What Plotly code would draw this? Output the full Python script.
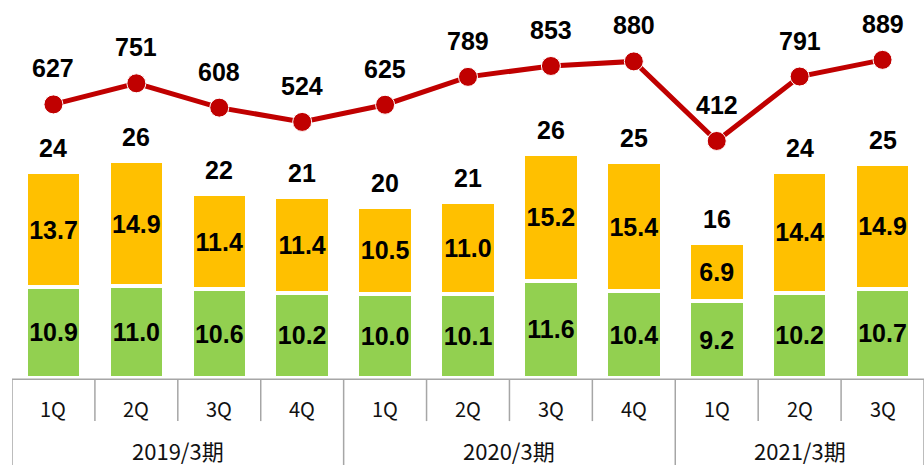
import plotly.graph_objects as go

quarters = ["1Q", "2Q", "3Q", "4Q", "1Q", "2Q", "3Q", "4Q", "1Q", "2Q", "3Q"]
groups = ["2019/3期", "2020/3期", "2021/3期"]
group_sizes = [4, 4, 3]
green_vals = [10.9, 11.0, 10.6, 10.2, 10.0, 10.1, 11.6, 10.4, 9.2, 10.2, 10.7]
orange_vals = [13.7, 14.9, 11.4, 11.4, 10.5, 11.0, 15.2, 15.4, 6.9, 14.4, 14.9]
total_labels = [24, 26, 22, 21, 20, 21, 26, 25, 16, 24, 25]
line_vals = [627, 751, 608, 524, 625, 789, 853, 880, 412, 791, 889]

x = list(range(len(quarters)))
num_font = dict(family="Liberation Sans", size=25, color="#000000")
q_font = dict(family="Noto Sans CJK JP", size=20, color="#111111")
g_font = dict(family="Noto Sans CJK JP", size=22, color="#111111")

fig = go.Figure()
fig.add_trace(go.Bar(
    x=x, y=green_vals, marker=dict(color="#92D050", line=dict(color="white", width=4)),
    width=0.67, text=[f"<b>{v:.1f}</b>" for v in green_vals], textposition="inside",
    insidetextanchor="middle", textfont=num_font, hoverinfo="skip", cliponaxis=False,
))
fig.add_trace(go.Bar(
    x=x, y=orange_vals, marker=dict(color="#FFC000", line=dict(color="white", width=4)),
    width=0.67, text=[f"<b>{v:.1f}</b>" for v in orange_vals], textposition="inside",
    insidetextanchor="middle", textfont=num_font, hoverinfo="skip", cliponaxis=False,
))
fig.add_trace(go.Scatter(
    x=x, y=line_vals, yaxis="y2", mode="lines+markers",
    line=dict(color="#C00000", width=5),
    marker=dict(color="#C00000", size=19, line=dict(color="white", width=1)),
    hoverinfo="skip", cliponaxis=False,
))

annotations = []
for i in x:
    annotations.append(dict(x=i, y=green_vals[i] + orange_vals[i], xref="x", yref="y",
                            text=f"<b>{total_labels[i]}</b>", showarrow=False,
                            yanchor="middle", yshift=24, font=num_font))
    annotations.append(dict(x=i, y=line_vals[i], xref="x", yref="y2",
                            text=f"<b>{line_vals[i]}</b>", showarrow=False,
                            yanchor="middle", yshift=36, font=num_font))
    annotations.append(dict(x=i, y=-0.08, xref="x", yref="paper", text=quarters[i],
                            showarrow=False, yanchor="middle", font=q_font))

shapes = []
line_col = "#A6A6A6"
shapes.append(dict(type="line", xref="x", yref="paper", x0=-0.5, x1=10.5, y0=-0.003, y1=-0.003,
                   line=dict(color=line_col, width=1.5)))
start = 0
bounds = [0]
for gname, gs in zip(groups, group_sizes):
    center = start + (gs - 1) / 2
    annotations.append(dict(x=center, y=-0.19, xref="x", yref="paper", text=gname,
                            showarrow=False, yanchor="middle", font=g_font))
    start += gs
    bounds.append(start)
for b in range(len(quarters) + 1):
    bottom = -0.24 if b in bounds else -0.114
    shapes.append(dict(type="line", xref="x", yref="paper", x0=b - 0.5, x1=b - 0.5,
                       y0=-0.003, y1=bottom, line=dict(color=line_col, width=1.5)))

fig.update_layout(
    width=924, height=465, barmode="stack", showlegend=False,
    margin=dict(l=12, r=0, t=0, b=87),
    paper_bgcolor="white", plot_bgcolor="white",
    xaxis=dict(range=[-0.5, 10.5], visible=False, fixedrange=True),
    yaxis=dict(range=[0, 45.2], visible=False, fixedrange=True),
    yaxis2=dict(range=[-982, 1241], overlaying="y", visible=False, fixedrange=True),
    uniformtext=dict(minsize=25, mode="show"),
    annotations=annotations, shapes=shapes,
)
fig.write_html("out.html", config={"displayModeBar": False},
               post_script="document.body.style.margin='0';document.body.style.overflow='hidden';")
